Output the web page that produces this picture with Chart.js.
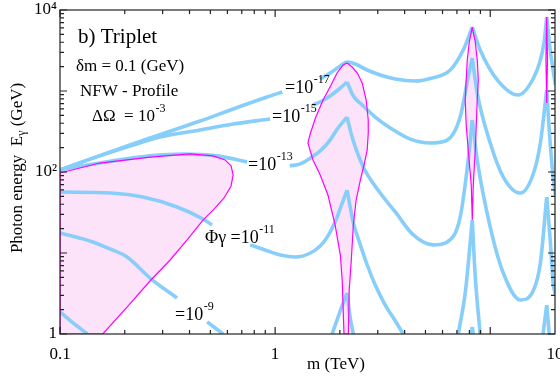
<!DOCTYPE html>
<html>
<head>
<meta charset="utf-8">
<script src="https://cdn.jsdelivr.net/npm/chart.js@4.4.1/dist/chart.umd.min.js"></script>
<style>
  html, body { margin: 0; padding: 0; background: #fff; }
</style>
</head>
<body>
<canvas id="chart" width="560" height="378"></canvas>
<script>
// points are [m (TeV), E (GeV)]; each contour is split into branches at the resonance cusps
const phi17 = [
  [[0.1, 106], [0.171, 177], [0.262, 263], [0.448, 426], [0.638, 600], [0.918, 843], [1.08, 972]],
  [[1.62, 1407], [1.80, 1668], [2.01, 2036], [2.16, 2280], [2.36, 2154], [2.68, 1816], [3.08, 1577], [3.62, 1407],
   [4.48, 1328], [5.37, 1447], [6.52, 1816], [7.49, 3208], [7.90, 4510], [8.25, 6166]],
  [[8.25, 6166], [8.98, 3208], [10.8, 1366], [13.5, 893], [15.9, 1447], [17.1, 2415], [17.8, 4027], [18.3, 8196]],
  [[18.3, 8196], [19.0, 3208], [20.1, 1186]]
];
const phi15 = [
  [[0.1, 106], [0.153, 158], [0.212, 209], [0.292, 270], [0.448, 330], [0.638, 391], [0.948, 451]],
  [[1.50, 671], [1.65, 753], [1.80, 867], [2.01, 1089], [2.16, 1291]],
  [[2.16, 1291], [2.31, 867], [2.54, 671], [2.92, 477], [3.43, 349], [4.25, 255], [5.26, 228], [6.31, 248],
   [7.25, 477], [7.90, 1490], [8.25, 2555]],
  [[8.25, 2555], [8.70, 945], [10.0, 228], [11.5, 86.7], [13.8, 55.0], [15.9, 97.2], [17.1, 228], [18.3, 1028]],
  [[18.3, 1028], [18.8, 330], [19.6, 86.7], [20.1, 52]]
];
const phi13 = [
  [[0.1, 106], [0.153, 129], [0.262, 158], [0.373, 167], [0.537, 158], [0.741, 133]],
  [[1.17, 119], [1.31, 126], [1.46, 149], [1.62, 182], [1.80, 248], [1.96, 349], [2.16, 477]],
  [[2.16, 477], [2.28, 270], [2.57, 115], [3.08, 55.0], [3.62, 32.1], [4.39, 16.7], [5.43, 12.6], [6.31, 13.7],
   [7.25, 27.8], [7.90, 141], [8.25, 439]],
  [[8.25, 439], [8.70, 141], [10.0, 20.9], [11.5, 5.66], [13.8, 2.63], [15.9, 3.49], [17.1, 7.53], [18.3, 49.1]],
  [[18.3, 49.1], [19.0, 14.5], [19.6, 4.26], [20.1, 3.03]]
];
const phi11 = [
  [[0.1, 56.6], [0.171, 55.0], [0.243, 49.1], [0.350, 37.0], [0.462, 26.3], [0.509, 22.2]],
  [[0.765, 12.6], [0.898, 10.9], [1.06, 9.44], [1.24, 8.92], [1.46, 10.0], [1.62, 12.2], [1.75, 15.8],
   [1.90, 24.1], [2.01, 35.9], [2.16, 59.9]],
  [[2.16, 59.9], [2.31, 23.5], [2.49, 12.6], [2.68, 7.11], [2.92, 4.03], [3.25, 2.28], [3.62, 1.45], [3.94, 1]],
  [[7.10, 1], [7.65, 3.21], [8.07, 13.3], [8.25, 25.5]],
  [[8.25, 25.5], [8.52, 5.06], [8.98, 1]],
  [[17.6, 1], [18.3, 2.28]],
  [[18.3, 2.28], [18.8, 1]]
];
const phi9 = [
  [[0.1, 17.7], [0.142, 13.7], [0.171, 11.2], [0.205, 8.92], [0.262, 4.91], [0.350, 2.78]],
  [[0.483, 1.41], [0.573, 1]],
  [[1.84, 1], [2.07, 2.41], [2.16, 3.21]],
  [[2.16, 3.21], [2.23, 1.62], [2.31, 1]],
  [[8.16, 1], [8.25, 1.22]],
  [[8.25, 1.22], [8.34, 1]]
];
const phi7 = [
  [[0.1, 1.87], [0.115, 1.37], [0.134, 1]]
];

// shaded regions (outline points, in order)
const region1 = [[0.1, 97.2], [0.153, 129], [0.262, 153], [0.402, 167], [0.515, 158], [0.585, 141], [0.624, 119],
  [0.638, 91.9], [0.624, 67.2], [0.579, 47.8], [0.515, 33.9], [0.462, 25.5], [0.390, 14.5], [0.325, 8.20],
  [0.262, 4.51], [0.205, 2.15], [0.158, 1], [0.1, 1]];
const region2 = [[2.16, 2218], [2.28, 1978], [2.41, 1668], [2.54, 1255], [2.65, 774], [2.71, 439], [2.71, 303],
  [2.68, 187], [2.59, 122], [2.49, 79.6], [2.38, 45.1], [2.31, 22.2], [2.26, 8.20], [2.21, 3.49], [2.19, 1],
  [2.09, 1], [2.05, 4.64], [2.01, 9.44], [1.90, 22.2], [1.76, 52.0], [1.62, 91.9], [1.50, 141], [1.42, 228],
  [1.46, 303], [1.54, 464], [1.67, 774], [1.82, 1186], [1.94, 1668], [2.07, 2094]];
const region3 = [[8.25, 6166], [8.52, 4027], [8.70, 2415], [8.80, 1366], [8.70, 774], [8.61, 380], [8.52, 187],
  [8.34, 69.1], [8.25, 25.5], [8.16, 69.1], [7.90, 187], [7.73, 380], [7.65, 774], [7.73, 1366], [7.82, 2415],
  [7.99, 4027]];
const region4 = [[18.3, 8196], [18.45, 2415], [18.3, 711], [18.15, 2415]];

const xTickValues = [0.1, 1, 20];
const xTickText = ['0.1', '1', '10'];
const yTickValues = [1, 100, 10000];
const yTickText = ['1', '10²', '10⁴'];
const xMajor = [0.1, 1, 10];
const yMajor = [1, 10, 100, 1000, 10000];
const minorSteps = [2, 3, 4, 5, 6, 7, 8, 9];

const blue = '#87cefa';
const magenta = '#ff00ff';
const pink = '#fde3fa';
const serif = "'Liberation Serif', 'Times New Roman', serif";

function toXY(points) {
  return points.map(p => ({ x: p[0], y: p[1] }));
}

const datasets = [];
[region1, region2, region3, region4].forEach(r => {
  datasets.push({
    data: toXY(r.concat([r[0]])),
    showLine: true,
    borderColor: magenta,
    borderWidth: 1.2,
    pointRadius: 0,
    tension: 0,
    fill: false,
    region: true
  });
});
[phi17, phi15, phi13, phi11, phi9, phi7].forEach(contour => {
  contour.forEach(branch => {
    datasets.push({
      data: toXY(branch),
      showLine: true,
      borderColor: blue,
      borderWidth: 3.6,
      pointRadius: 0,
      cubicInterpolationMode: 'monotone',
      fill: false
    });
  });
});

// fill the shaded regions underneath everything, from the points the scales placed
const regionFill = {
  id: 'regionFill',
  beforeDatasetsDraw(chart) {
    const ctx = chart.ctx;
    const area = chart.chartArea;
    ctx.save();
    ctx.beginPath();
    ctx.rect(area.left, area.top, area.right - area.left, area.bottom - area.top);
    ctx.clip();
    ctx.fillStyle = pink;
    chart.data.datasets.forEach((ds, i) => {
      if (!ds.region) return;
      const pts = chart.getDatasetMeta(i).data;
      ctx.beginPath();
      pts.forEach((p, j) => j ? ctx.lineTo(p.x, p.y) : ctx.moveTo(p.x, p.y));
      ctx.closePath();
      ctx.fill();
    });
    ctx.restore();
  }
};

function drawSup(ctx, x, y, base, sup, size) {
  ctx.font = size + 'px ' + serif;
  ctx.fillText(base, x, y);
  if (!sup) return;
  const w = ctx.measureText(base).width;
  ctx.font = Math.round(size * 0.68) + 'px ' + serif;
  ctx.fillText(sup, x + w + 0.5, y - size * 0.55);
}

const notes = [
  { x: 78, y: 43, size: 21, text: 'b) Triplet' },
  { x: 76, y: 71, size: 17, text: 'δm = 0.1 (GeV)' },
  { x: 80, y: 96, size: 17, text: 'NFW - Profile' },
  { x: 92, y: 121, size: 17, text: 'ΔΩ  = 10', sup: '-3' },
  { x: 285, y: 93, size: 18, text: '=10', sup: '-17' },
  { x: 272, y: 122, size: 18, text: '=10', sup: '-15' },
  { x: 248, y: 170, size: 18, text: '=10', sup: '-13' },
  { x: 205, y: 243, size: 18, text: 'Φγ =10', sup: '-11' },
  { x: 175, y: 320, size: 18, text: '=10', sup: '-9' }
];

const frame = {
  id: 'frame',
  afterDraw(chart) {
    const ctx = chart.ctx;
    const { left, right, top, bottom } = chart.chartArea;
    const sx = chart.scales.x, sy = chart.scales.y;
    ctx.save();
    ctx.strokeStyle = '#222';
    ctx.lineWidth = 1.2;
    ctx.strokeRect(left, top, right - left, bottom - top);
    ctx.beginPath();
    const xTick = (v, len) => {
      const px = sx.getPixelForValue(v);
      ctx.moveTo(px, bottom); ctx.lineTo(px, bottom - len);
      ctx.moveTo(px, top); ctx.lineTo(px, top + len);
    };
    const yTick = (v, len) => {
      const py = sy.getPixelForValue(v);
      ctx.moveTo(left, py); ctx.lineTo(left + len, py);
      ctx.moveTo(right, py); ctx.lineTo(right - len, py);
    };
    xMajor.forEach(v => xTick(v, 7));
    [0.1, 1].forEach(d => minorSteps.forEach(s => xTick(d * s, 4)));
    yMajor.forEach(v => yTick(v, 7));
    [1, 10, 100, 1000].forEach(d => minorSteps.forEach(s => yTick(d * s, 4)));
    ctx.stroke();

    ctx.fillStyle = '#000';
    ctx.textAlign = 'left';
    ctx.textBaseline = 'alphabetic';
    notes.forEach(n => drawSup(ctx, n.x, n.y, n.text, n.sup, n.size));

    // axis titles
    ctx.font = '17px ' + serif;
    ctx.textAlign = 'center';
    ctx.fillText('m (TeV)', 336, 369);

    ctx.save();
    ctx.translate(22, 168);
    ctx.rotate(-Math.PI / 2);
    ctx.textAlign = 'left';
    const a = 'Photon energy  E', g = 'γ', b = ' (GeV)';
    ctx.font = '17px ' + serif;
    const wa = ctx.measureText(a).width, wb = ctx.measureText(b).width;
    ctx.font = '12px ' + serif;
    const wg = ctx.measureText(g).width;
    let x0 = -(wa + wg + wb) / 2;
    ctx.font = '17px ' + serif;
    ctx.fillText(a, x0, 0);
    ctx.font = '12px ' + serif;
    ctx.fillText(g, x0 + wa, 3);
    ctx.font = '17px ' + serif;
    ctx.fillText(b, x0 + wa + wg, 0);
    ctx.restore();
    ctx.restore();
  }
};

new Chart(document.getElementById('chart'), {
  type: 'scatter',
  data: { datasets },
  options: {
    responsive: false,
    animation: false,
    events: [],
    layout: { padding: { left: 0, right: 5, top: 10, bottom: 0 } },
    plugins: { legend: { display: false }, tooltip: { enabled: false } },
    scales: {
      x: {
        type: 'logarithmic',
        min: 0.1,
        max: 20,
        grid: { display: false, drawTicks: false },
        border: { display: false },
        ticks: {
          autoSkip: false, maxRotation: 0, minRotation: 0, padding: 10, color: '#000',
          font: { family: serif, size: 17 },
          callback: (v, i) => xTickText[i]
        },
        afterBuildTicks: s => { s.ticks = xTickValues.map(v => ({ value: v })); },
        afterFit: s => { s.height = 44; s.paddingLeft = 0; s.paddingRight = 0; }
      },
      y: {
        type: 'logarithmic',
        min: 1,
        max: 10000,
        grid: { display: false, drawTicks: false },
        border: { display: false },
        ticks: {
          autoSkip: false, padding: 3, color: '#000',
          font: { family: serif, size: 17 },
          callback: (v, i) => yTickText[i]
        },
        afterBuildTicks: s => { s.ticks = yTickValues.map(v => ({ value: v })); },
        afterFit: s => { s.width = 60; s.paddingTop = 0; s.paddingBottom = 0; }
      }
    }
  },
  plugins: [regionFill, frame]
});
</script>
</body>
</html>
